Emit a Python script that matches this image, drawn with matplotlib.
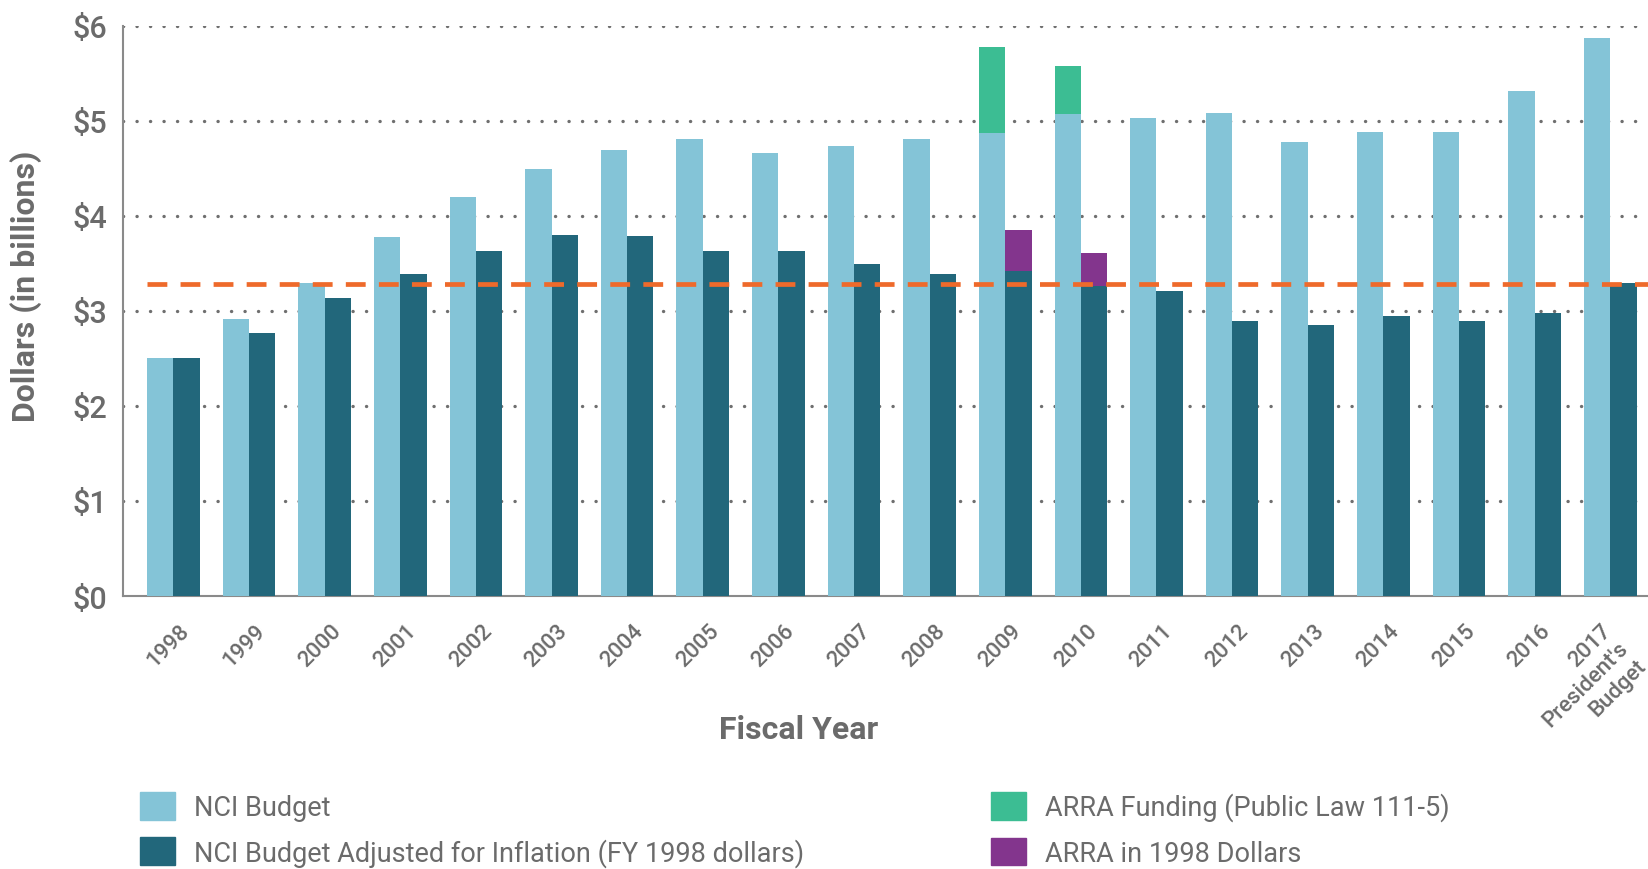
import matplotlib
matplotlib.use("Agg")
import matplotlib.pyplot as plt
import matplotlib.transforms as mtransforms
from matplotlib.patches import Patch
import numpy as np

plt.rcParams['font.family'] = ['Roboto', 'DejaVu Sans']

years = ["1998", "1999", "2000", "2001", "2002", "2003", "2004", "2005", "2006", "2007",
         "2008", "2009", "2010", "2011", "2012", "2013", "2014", "2015", "2016",
         "2017\nPresident's\nBudget"]
nci_budget = [2.51, 2.92, 3.30, 3.78, 4.20, 4.49, 4.70, 4.81, 4.66, 4.74,
              4.81, 4.87, 5.07, 5.03, 5.08, 4.78, 4.88, 4.88, 5.32, 5.87]
nci_adjusted = [2.51, 2.77, 3.14, 3.39, 3.63, 3.80, 3.79, 3.63, 3.63, 3.50,
                3.39, 3.42, 3.26, 3.21, 2.89, 2.85, 2.95, 2.89, 2.98, 3.29]
arra_funding = [0, 0, 0, 0, 0, 0, 0, 0, 0, 0, 0, 0.91, 0.51, 0, 0, 0, 0, 0, 0, 0]
arra_1998 = [0, 0, 0, 0, 0, 0, 0, 0, 0, 0, 0, 0.43, 0.35, 0, 0, 0, 0, 0, 0, 0]
average_line = 3.28
y_ticks = [0, 1, 2, 3, 4, 5, 6]
y_ticklabels = ["$0", "$1", "$2", "$3", "$4", "$5", "$6"]

c_light = "#84C4D7"
c_dark = "#22677B"
c_green = "#3CBD93"
c_purple = "#83358D"
c_orange = "#EE6A2B"
c_text = "#6B6B6B"

W, H = 1648, 870
fig = plt.figure(figsize=(W / 100, H / 100), dpi=100)
ax = fig.add_axes([123 / W, 1 - 597 / H, (W - 123) / W, (597 - 27) / H])

x = np.arange(len(years))
bw = 0.348
ax.bar(x - bw / 2, nci_budget, bw, color=c_light, zorder=3)
ax.bar(x + bw / 2, nci_adjusted, bw, color=c_dark, zorder=3)
ax.bar(x - bw / 2, arra_funding, bw, bottom=nci_budget, color=c_green, zorder=3)
ax.bar(x + bw / 2, arra_1998, bw, bottom=nci_adjusted, color=c_purple, zorder=3)

ax.plot([x[0] - bw, 19.6], [average_line, average_line], color=c_orange, lw=3.4,
        linestyle=(0, (4.2, 2.8)), zorder=4, solid_capstyle='butt')

ax.set_xlim(-0.667, 19.5)
ax.set_ylim(0, 6)
ax.set_yticks(y_ticks)
ax.set_yticklabels(y_ticklabels)
ax.set_xticks(x)
ax.set_xticklabels(years, rotation=45, ha='center', multialignment='right')

for v in y_ticks[1:]:
    ax.axhline(v, color="#6f6f6f", lw=2.4, linestyle=(0, (0.05, 4.0)),
               dash_capstyle='round', zorder=1)

for s in ['top', 'right']:
    ax.spines[s].set_visible(False)
for s in ['left', 'bottom']:
    ax.spines[s].set_color("#8a8a8a")
    ax.spines[s].set_linewidth(1.5)

ax.tick_params(axis='y', length=0, pad=11, labelsize=22, labelcolor=c_text)
ax.tick_params(axis='x', length=0, pad=17, labelsize=16, labelcolor=c_text)
for lbl in ax.get_yticklabels():
    lbl.set_fontweight('medium')
for lbl in ax.get_xticklabels():
    lbl.set_fontweight('medium')

offset = mtransforms.ScaledTranslation(-5 / 100, 0, fig.dpi_scale_trans)
for lbl in ax.get_xticklabels()[:-1]:
    lbl.set_transform(lbl.get_transform() + offset)
last = ax.get_xticklabels()[-1]
last.set_linespacing(1.25)
last.set_transform(last.get_transform() + mtransforms.ScaledTranslation(-24 / 100, 0, fig.dpi_scale_trans))

fig.text(26 / W, 1 - 286 / H, "Dollars (in billions)", rotation=90, ha='center', va='center',
         fontsize=23, fontweight='bold', color=c_text)
fig.text(799 / W, 1 - 730 / H, "Fiscal Year", ha='center', va='center',
         fontsize=23, fontweight='bold', color=c_text)

leg_kw = dict(frameon=False, fontsize=19.5, handlelength=1.3, handleheight=1.2,
              handletextpad=0.7, labelspacing=0.6, borderpad=0, borderaxespad=0,
              loc='upper left', labelcolor=c_text)
fig.legend(handles=[Patch(color=c_light), Patch(color=c_dark)],
           labels=["NCI Budget", "NCI Budget Adjusted for Inflation (FY 1998 dollars)"],
           bbox_to_anchor=(140 / W, 1 - 793 / H), **leg_kw)
fig.legend(handles=[Patch(color=c_green), Patch(color=c_purple)],
           labels=["ARRA Funding (Public Law 111-5)", "ARRA in 1998 Dollars"],
           bbox_to_anchor=(991 / W, 1 - 793 / H), **leg_kw)

fig.savefig("out.png", dpi=100)
